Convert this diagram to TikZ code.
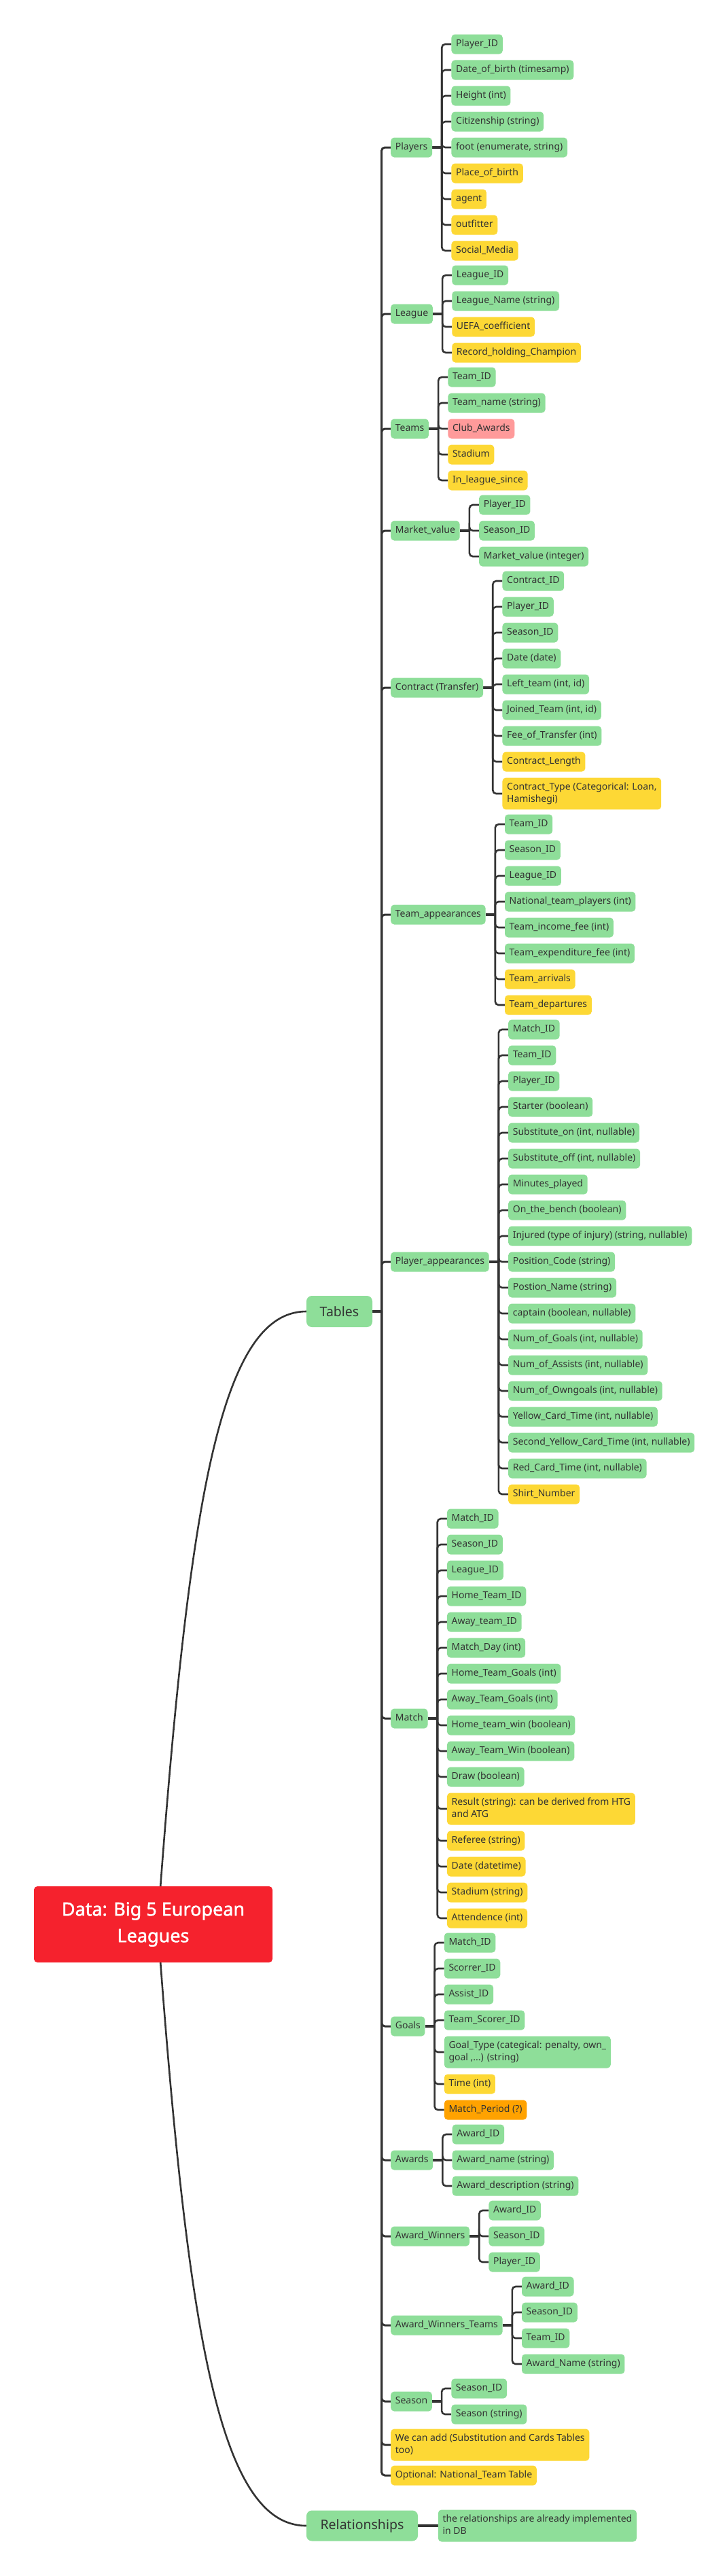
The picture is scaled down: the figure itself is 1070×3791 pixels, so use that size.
\documentclass[tikz,border=0pt]{standalone}
\usepackage{fontspec}
\setmainfont{Noto Sans}
\newfontfamily\rootfont[FakeBold=1.6]{Noto Sans}
\usetikzlibrary{calc}
\definecolor{gF}{HTML}{8EDE99}
\definecolor{yF}{HTML}{FDD835}
\definecolor{rF}{HTML}{FF9A9A}
\definecolor{oF}{HTML}{FFA200}
\definecolor{rootF}{HTML}{F5222D}
\definecolor{tc}{HTML}{333333}
\definecolor{lc}{HTML}{333333}
\pgfdeclarelayer{back}
\pgfdeclarelayer{bg}
\pgfsetlayers{back,bg,main}
\newcommand\mystrut{\vrule width0pt height10.7pt depth3.8pt}
\tikzset{
 leaf/.style={draw=none, fill=gF, rounded corners=5pt, text=tc, font=\fontsize{14}{18}\selectfont, align=left, inner xsep=6.7pt, inner ysep=7.25pt, minimum height=29pt, execute at begin node=\mystrut},
 topic/.style={fill=gF, rounded corners=8pt, text=tc, font=\fontsize{19.5}{24}\selectfont, minimum height=46pt, align=center},
 conn/.style={draw=lc, line width=2.6pt, rounded corners=5pt},
 stub/.style={draw=lc, line width=3.4pt},
 curve/.style={draw=lc, line width=2.6pt},
}
\newcommand\kids[2]{%
 \path (#1.east) ++(28,0) coordinate (#1-x) ++(-14,0) coordinate (#1-v);
 \begin{pgfonlayer}{bg}\draw[stub] (#1.east) -- (#1-v);\end{pgfonlayer}
 \foreach \yy/\txt/\col [count=\i] in {#2} {
  \node[leaf, fill=\col, anchor=west] (#1-\i) at (#1-x |- 0,\yy) {\txt};
  \begin{pgfonlayer}{bg}\draw[conn] (#1-v) |- (#1-\i.west);\end{pgfonlayer}
 }%
}
\begin{document}
\begin{tikzpicture}[x=1pt,y=-1pt]
\useasboundingbox (0,0) rectangle (1070,3791);
\begin{pgfonlayer}{back}\fill[white] (0,0) rectangle (1070,3791);\end{pgfonlayer}

% root and topics
\node[fill=rootF, rounded corners=5pt, minimum width=351pt, minimum height=112pt, text=white, font=\rootfont\fontsize{27}{39}\selectfont, align=center] (root) at (225.5,2832) {Data: Big 5 European\\Leagues};
\coordinate (rc) at (232,2832);
\node[topic, minimum width=97pt] (tables) at (499.5,1930) {Tables};
\node[topic, minimum width=164pt, minimum height=45pt] (rel) at (533,3717) {Relationships};
\node[leaf, anchor=west] (relnote) at (644.6,3717) {the relationships are already implemented\\in DB};
\begin{pgfonlayer}{bg}
\draw[curve] (rc) .. controls (276,2232) and (320,1930) .. (tables.west);
\draw[curve] (rc) .. controls (275,3420) and (320,3717) .. (rel.west);
\draw[stub] (rel.east) -- (relnote.west);
\end{pgfonlayer}

% first level
\node[leaf, anchor=west] (players) at (575,217) {Players};
\node[leaf, anchor=west] (league) at (575,462) {League};
\node[leaf, anchor=west] (teams) at (575,631) {Teams};
\node[leaf, anchor=west] (mv) at (575,781) {Market\_value};
\node[leaf, anchor=west] (contract) at (575,1012) {Contract (Transfer)};
\node[leaf, anchor=west] (tapp) at (575,1346) {Team\_appearances};
\node[leaf, anchor=west] (papp) at (575,1857) {Player\_appearances};
\node[leaf, anchor=west] (match) at (575,2529) {Match};
\node[leaf, anchor=west] (goals) at (575,2982) {Goals};
\node[leaf, anchor=west] (awards) at (575,3179) {Awards};
\node[leaf, anchor=west] (aw) at (575,3291) {Award\_Winners};
\node[leaf, anchor=west] (awt) at (575,3422) {Award\_Winners\_Teams};
\node[leaf, anchor=west] (season) at (575,3534) {Season};
\node[leaf, anchor=west, fill=yF] (wecan) at (575,3598) {We can add (Substitution and Cards Tables\\too)};
\node[leaf, anchor=west, fill=yF] (optional) at (575,3643) {Optional: National\_Team Table};

\coordinate (tv) at (561.5,1930);
\begin{pgfonlayer}{bg}
\draw[stub] (tables.east) -- (tv);
\foreach \n in {players,league,teams,mv,contract,tapp,papp,match,goals,awards,aw,awt,season,wecan,optional}
  \draw[conn, line width=3pt] (tv) |- (\n.west);
\end{pgfonlayer}

% second level
\kids{players}{65/Player\_ID/gF, 103/{Date\_of\_birth (timesamp)}/gF, 141/{Height (int)}/gF, 179/{Citizenship (string)}/gF, 217/{foot (enumerate, string)}/gF, 255/Place\_of\_birth/yF, 293/agent/yF, 331/outfitter/yF, 369/Social\_Media/yF}
\kids{league}{405/League\_ID/gF, 443/{League\_Name (string)}/gF, 481/UEFA\_coefficient/yF, 519/Record\_holding\_Champion/yF}
\kids{teams}{555/Team\_ID/gF, 593/{Team\_name (string)}/gF, 631/Club\_Awards/rF, 669/Stadium/yF, 707/In\_league\_since/yF}
\kids{mv}{743/Player\_ID/gF, 781/Season\_ID/gF, 819/{Market\_value (integer)}/gF}
\kids{contract}{855/Contract\_ID/gF, 893/Player\_ID/gF, 931/Season\_ID/gF, 969/{Date (date)}/gF, 1007/{Left\_team (int, id)}/gF, 1045/{Joined\_Team (int, id)}/gF, 1083/{Fee\_of\_Transfer (int)}/gF, 1121/Contract\_Length/yF, 1168/{Contract\_Type (Categorical: Loan,\\Hamishegi)}/yF}
\kids{tapp}{1213/Team\_ID/gF, 1251/Season\_ID/gF, 1289/League\_ID/gF, 1327/{National\_team\_players (int)}/gF, 1365/{Team\_income\_fee (int)}/gF, 1403/{Team\_expenditure\_fee (int)}/gF, 1441/Team\_arrivals/yF, 1479/Team\_departures/yF}
\kids{papp}{1515/Match\_ID/gF, 1553/Team\_ID/gF, 1591/Player\_ID/gF, 1629/{Starter (boolean)}/gF, 1667/{Substitute\_on (int, nullable)}/gF, 1705/{Substitute\_off (int, nullable)}/gF, 1743/Minutes\_played/gF, 1781/{On\_the\_bench (boolean)}/gF, 1819/{Injured (type of injury) (string, nullable)}/gF, 1857/{Position\_Code (string)}/gF, 1895/{Postion\_Name (string)}/gF, 1933/{captain (boolean, nullable)}/gF, 1971/{Num\_of\_Goals (int, nullable)}/gF, 2009/{Num\_of\_Assists (int, nullable)}/gF, 2047/{Num\_of\_Owngoals (int, nullable)}/gF, 2085/{Yellow\_Card\_Time (int, nullable)}/gF, 2123/{Second\_Yellow\_Card\_Time (int, nullable)}/gF, 2161/{Red\_Card\_Time (int, nullable)}/gF, 2199/Shirt\_Number/yF}
\kids{match}{2235/Match\_ID/gF, 2273/Season\_ID/gF, 2311/League\_ID/gF, 2349/Home\_Team\_ID/gF, 2387/Away\_team\_ID/gF, 2425/{Match\_Day (int)}/gF, 2463/{Home\_Team\_Goals (int)}/gF, 2501/{Away\_Team\_Goals (int)}/gF, 2539/{Home\_team\_win (boolean)}/gF, 2577/{Away\_Team\_Win (boolean)}/gF, 2615/{Draw (boolean)}/gF, 2662/{Result (string): can be derived from HTG\\and ATG}/yF, 2709/{Referee (string)}/yF, 2747/{Date (datetime)}/yF, 2785/{Stadium (string)}/yF, 2823/{Attendence (int)}/yF}
\kids{goals}{2859/Match\_ID/gF, 2897/Scorrer\_ID/gF, 2935/Assist\_ID/gF, 2973/Team\_Scorer\_ID/gF, 3020/{Goal\_Type (categical: penalty, own\_\\goal ,...) (string)}/gF, 3067/{Time (int)}/yF, 3105/{Match\_Period (?)}/oF}
\kids{awards}{3141/Award\_ID/gF, 3179/{Award\_name (string)}/gF, 3217/{Award\_description (string)}/gF}
\kids{aw}{3253/Award\_ID/gF, 3291/Season\_ID/gF, 3329/Player\_ID/gF}
\kids{awt}{3365/Award\_ID/gF, 3403/Season\_ID/gF, 3441/Team\_ID/gF, 3479/{Award\_Name (string)}/gF}
\kids{season}{3515/Season\_ID/gF, 3553/{Season (string)}/gF}
\end{tikzpicture}
\end{document}
